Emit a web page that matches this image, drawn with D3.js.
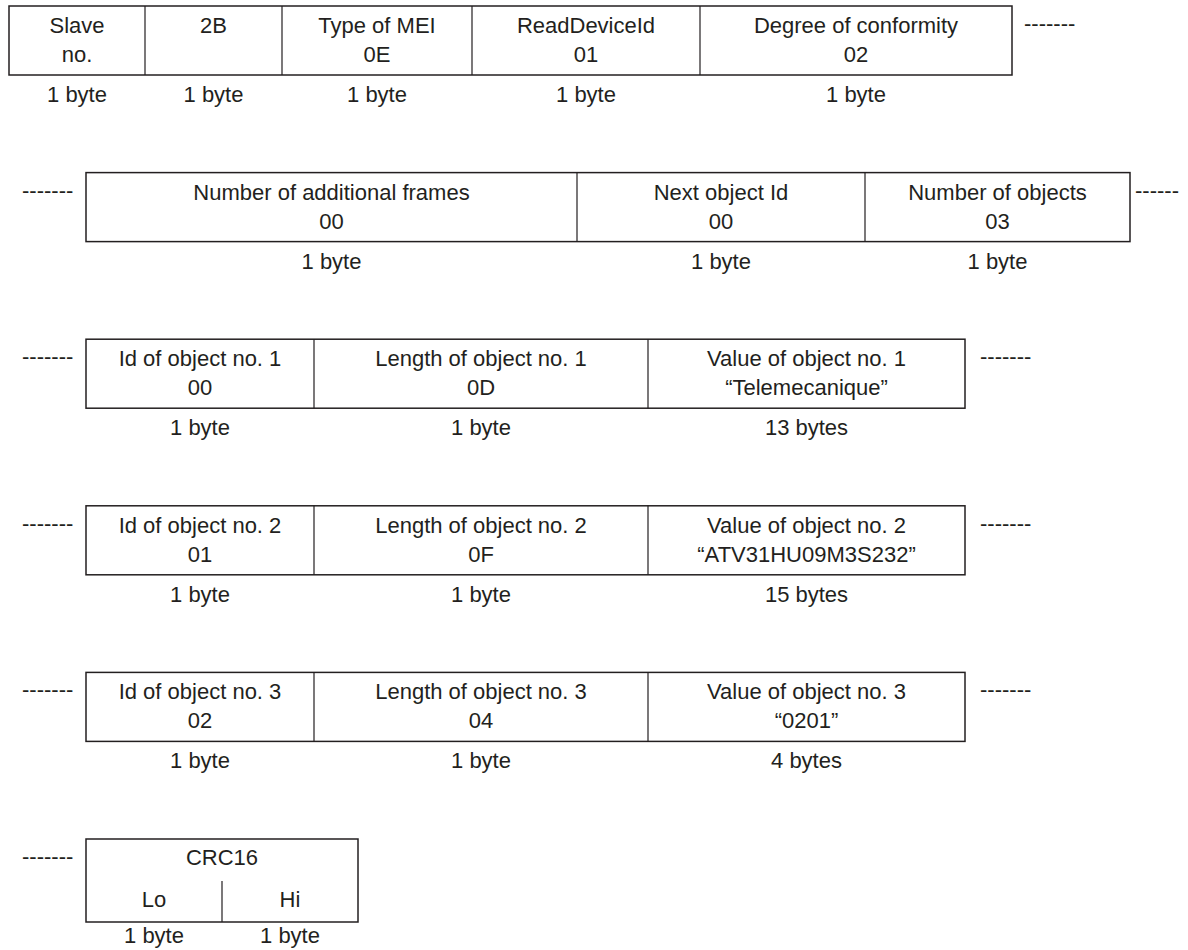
<!DOCTYPE html>
<html>
<head>
<meta charset="utf-8">
<script src="https://cdn.jsdelivr.net/npm/d3@7"></script>
<style>
  body { margin: 0; background: #fff; }
  text { font-family: "Liberation Sans", Arial, sans-serif; font-size: 22px; fill: #231f20; }
</style>
</head>
<body>
<svg id="chart" width="1188" height="950"></svg>
<script>
// frame fields, row by row
var headerFields = ["Slave", "2B", "Type of MEI", "ReadDeviceId", "Degree of conformity"];
var headerValues = ["no.", "", "0E", "01", "02"];
var headerBytes = ["1 byte", "1 byte", "1 byte", "1 byte", "1 byte"];

var frameFields = ["Number of additional frames", "Next object Id", "Number of objects"];
var frameValues = ["00", "00", "03"];
var frameBytes = ["1 byte", "1 byte", "1 byte"];

var obj1Fields = ["Id of object no. 1", "Length of object no. 1", "Value of object no. 1"];
var obj1Values = ["00", "0D", "\u201cTelemecanique\u201d"];
var obj1Bytes = ["1 byte", "1 byte", "13 bytes"];

var obj2Fields = ["Id of object no. 2", "Length of object no. 2", "Value of object no. 2"];
var obj2Values = ["01", "0F", "\u201cATV31HU09M3S232\u201d"];
var obj2Bytes = ["1 byte", "1 byte", "15 bytes"];

var obj3Fields = ["Id of object no. 3", "Length of object no. 3", "Value of object no. 3"];
var obj3Values = ["02", "04", "\u201c0201\u201d"];
var obj3Bytes = ["1 byte", "1 byte", "4 bytes"];

var crcField = "CRC16";
var crcParts = ["Lo", "Hi"];
var crcBytes = ["1 byte", "1 byte"];

// layout (cell edges in px for each row)
var headerEdges = [9, 145, 282, 472, 700, 1012];
var frameEdges = [86, 577, 865, 1130];
var objEdges = [86, 314, 648, 965];
var crcEdges = [86, 222, 358];

var svg = d3.select("#chart");

// rows sit at even steps down the page
var y = d3.scaleLinear().domain([0, 5]).range([6, 839]);
var boxH = 69;

function drawRow(i, fields, values, bytes, edges, dashLeft, dashRight) {
  var top = y(i);
  var g = svg.append("g").attr("transform", "translate(0," + top + ")");

  g.append("rect")
    .attr("x", edges[0]).attr("y", 0)
    .attr("width", edges[edges.length - 1] - edges[0]).attr("height", boxH)
    .attr("fill", "none").attr("stroke", "#231f20").attr("stroke-width", 1.5);

  g.selectAll("line.div").data(edges.slice(1, -1)).enter().append("line")
    .attr("x1", function(d) { return d; }).attr("x2", function(d) { return d; })
    .attr("y1", 0).attr("y2", boxH)
    .attr("stroke", "#231f20").attr("stroke-width", 1.2);

  var mid = function(d, k) { return (edges[k] + edges[k + 1]) / 2; };

  g.selectAll("text.field").data(fields).enter().append("text")
    .attr("x", mid).attr("y", 27).attr("text-anchor", "middle").text(function(d) { return d; });

  g.selectAll("text.value").data(values).enter().append("text")
    .attr("x", mid).attr("y", 56).attr("text-anchor", "middle").text(function(d) { return d; });

  g.selectAll("text.bytes").data(bytes).enter().append("text")
    .attr("x", mid).attr("y", 96).attr("text-anchor", "middle").text(function(d) { return d; });

  if (dashLeft != null) g.append("text").attr("x", dashLeft).attr("y", 25).text("-------");
  if (dashRight != null) g.append("text").attr("x", dashRight).attr("y", 25).text(dashRight > 1100 ? "------" : "-------");
}

drawRow(0, headerFields, headerValues, headerBytes, headerEdges, null, 1024);
drawRow(1, frameFields, frameValues, frameBytes, frameEdges, 22, 1135);
drawRow(2, obj1Fields, obj1Values, obj1Bytes, objEdges, 22, 980);
drawRow(3, obj2Fields, obj2Values, obj2Bytes, objEdges, 22, 980);
drawRow(4, obj3Fields, obj3Values, obj3Bytes, objEdges, 22, 980);

// CRC block: title on top, two sub cells below
var crcTop = y(5), crcH = 83;
var cg = svg.append("g").attr("transform", "translate(0," + crcTop + ")");
cg.append("rect")
  .attr("x", crcEdges[0]).attr("y", 0)
  .attr("width", crcEdges[2] - crcEdges[0]).attr("height", crcH)
  .attr("fill", "none").attr("stroke", "#231f20").attr("stroke-width", 1.5);
cg.append("line")
  .attr("x1", crcEdges[1]).attr("x2", crcEdges[1]).attr("y1", 42).attr("y2", crcH)
  .attr("stroke", "#231f20").attr("stroke-width", 1.2);
cg.append("text").attr("x", (crcEdges[0] + crcEdges[2]) / 2).attr("y", 26)
  .attr("text-anchor", "middle").text(crcField);
var crcMid = function(d, k) { return (crcEdges[k] + crcEdges[k + 1]) / 2; };
cg.selectAll("text.part").data(crcParts).enter().append("text")
  .attr("x", crcMid).attr("y", 68).attr("text-anchor", "middle").text(function(d) { return d; });
// keep the bottom labels just inside the page
cg.selectAll("text.bytes").data(crcBytes).enter().append("text")
  .attr("x", crcMid).attr("y", 104).attr("text-anchor", "middle").text(function(d) { return d; });
cg.append("text").attr("x", 22).attr("y", 25).text("-------");
</script>
</body>
</html>
